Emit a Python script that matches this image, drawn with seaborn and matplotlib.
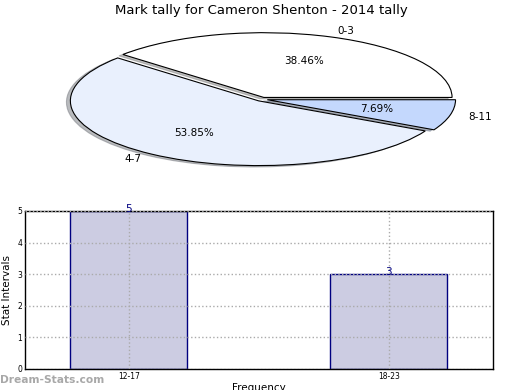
import matplotlib
matplotlib.use('Agg')
import matplotlib.pyplot as plt
import seaborn as sns
import pandas as pd

# данные
pie_labels = ['0-3', '4-7', '8-11']
pie_counts = [5, 7, 1]
pie_colors = ['#ffffff', '#e9f0fd', '#c4d8fd']

bar_cats = ['12-17', '18-23']
bar_vals = [5, 3]

sns.set_theme(style='white')
plt.rcParams['font.family'] = ['DejaVu Sans']
plt.rcParams['text.color'] = 'black'
plt.rcParams['axes.labelcolor'] = 'black'
plt.rcParams['xtick.color'] = 'black'
plt.rcParams['ytick.color'] = 'black'

fig = plt.figure(figsize=(5.2, 3.9), dpi=100)

# круговая диаграмма (сплюснутая)
ax1 = fig.add_axes([0.051, 0.538, 0.905, 0.415])
wedges, texts, autotexts = ax1.pie(
    pie_counts, labels=pie_labels, colors=pie_colors, explode=[0.03, 0.03, 0.03],
    autopct='%.2f%%', shadow={'ox': -0.015, 'oy': -0.015, 'shade': 0.5}, startangle=0,
    wedgeprops={'edgecolor': 'black', 'linewidth': 0.8},
    textprops={'fontsize': 7.5, 'color': 'black'})
ax1.set_aspect('auto')
ax1.set_title('Mark tally for Cameron Shenton - 2014 tally', fontsize=9.5, pad=3)

# столбчатая диаграмма
ax2 = fig.add_axes([0.048, 0.054, 0.9, 0.405])
df = pd.DataFrame({'cat': bar_cats, 'val': bar_vals})
sns.barplot(data=df, x='cat', y='val', ax=ax2, color='#cccce2', saturation=1,
            width=0.45, edgecolor='#000080', linewidth=1)
ax2.bar_label(ax2.containers[0], color='#000080', fontsize=7.5, padding=-2)
ax2.set_xlim(-0.4, 1.4)
ax2.set_ylim(0, 5)
ax2.set_yticks(range(6))
ax2.grid(True, linestyle=':', color='#aaaaaa', linewidth=1)
ax2.set_axisbelow(False)
for s in ax2.spines.values():
    s.set_color('black')
    s.set_linewidth(1)
ax2.tick_params(labelsize=5.5, direction='in', length=2, pad=2)
ax2.set_ylabel('Stat Intervals', fontsize=7.5, labelpad=4)
ax2.set_xlabel('Frequency', fontsize=7.5, labelpad=2)

fig.text(0.0, 0.025, 'Dream-Stats.com', fontsize=7.7, color='#a8a8a8',
         fontweight='bold', va='center', ha='left')

fig.savefig('out.png', dpi=100)
